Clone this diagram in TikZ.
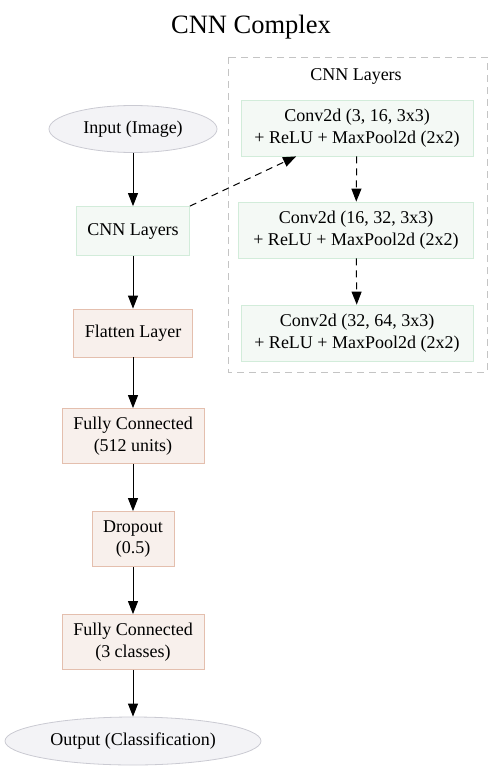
\documentclass[tikz,border=0pt]{standalone}
\usepackage{fontspec}
\setmainfont{Liberation Serif}
\usetikzlibrary{arrows.meta, shapes.geometric}

\definecolor{ovalfill}{HTML}{F3F3F6}
\definecolor{ovalline}{HTML}{CACAD2}
\definecolor{convfill}{HTML}{F4F9F5}
\definecolor{convline}{HTML}{D2ECDA}
\definecolor{denseFill}{HTML}{F8F0EC}
\definecolor{denseLine}{HTML}{E4BFAE}
\definecolor{clusterline}{HTML}{C4C4C4}

\begin{document}
\begin{tikzpicture}[x=1pt, y=-1pt,
		every node/.style={font=\fontsize{18}{21.5}\selectfont, align=center, inner sep=0pt},
		oval/.style={ellipse, draw=ovalline, fill=ovalfill, line width=0.8pt},
		convbox/.style={draw=convline, fill=convfill, line width=0.8pt, minimum height=56pt},
		densebox/.style={draw=denseLine, fill=denseFill, line width=0.8pt},
		flow/.style={-{Triangle[length=13pt,width=10pt]}, line width=1pt},
		dashflow/.style={flow, dash pattern=on 7pt off 5pt}]
	\useasboundingbox (0,0) rectangle (503,770);

	\node[font=\fontsize{26.5}{30}\selectfont] (title) at (251,27) {CNN Complex};

	% cluster
	\draw[clusterline, line width=0.8pt, dash pattern=on 7pt off 5pt] (228,57) rectangle (487,372);
	\node (clabel) at (356,76) {CNN Layers};

	\node[convbox, minimum width=232pt] (conv1) at (357,128) {Conv2d (3, 16, 3x3)\\+ ReLU + MaxPool2d (2x2)};
	\node[convbox, minimum width=235pt] (conv2) at (356,230) {Conv2d (16, 32, 3x3)\\+ ReLU + MaxPool2d (2x2)};
	\node[convbox, minimum width=232pt] (conv3) at (357,333) {Conv2d (32, 64, 3x3)\\+ ReLU + MaxPool2d (2x2)};

	% main column
	\node[oval, minimum width=168pt, minimum height=47pt] (input) at (133,129) {Input (Image)};
	\node[convbox, minimum width=113pt, minimum height=49pt] (cnn) at (133,231) {CNN Layers};
	\node[densebox, minimum width=119pt, minimum height=48pt] (flatten) at (133,333) {Flatten Layer};
	\node[densebox, minimum width=142pt, minimum height=55pt] (fc1) at (133,436) {Fully Connected\\(512 units)};
	\node[densebox, minimum width=82pt, minimum height=55pt] (drop) at (133,539) {Dropout\\(0.5)};
	\node[densebox, minimum width=142pt, minimum height=55pt] (fc2) at (133,642) {Fully Connected\\(3 classes)};
	\node[oval, minimum width=256pt, minimum height=48pt] (output) at (133,741) {Output (Classification)};

	\draw[flow] (input) -- (cnn);
	\draw[flow] (cnn) -- (flatten);
	\draw[flow] (flatten) -- (fc1);
	\draw[flow] (fc1) -- (drop);
	\draw[flow] (drop) -- (fc2);
	\draw[flow] (fc2) -- (output);

	\draw[dashflow] (cnn.north east) -- (conv1.205);
	\draw[dashflow] (conv1) -- (conv2);
	\draw[dashflow] (conv2) -- (conv3);
\end{tikzpicture}
\end{document}
